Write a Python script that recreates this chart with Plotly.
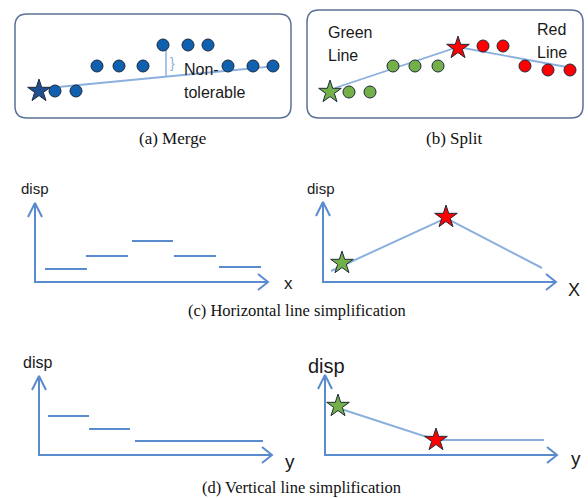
import plotly.graph_objects as go

# ---------------- data (diagram coordinates, px-like units) ----------------
# (a) Merge
merge_star_x = [39]
merge_star_y = [91]
merge_pts_x = [55, 76, 97, 119, 143, 163, 188, 208, 228, 253, 273]
merge_pts_y = [91, 91, 66, 66, 66, 45, 45, 45, 66, 66, 66]
merge_line_x = [48, 277]
merge_line_y = [88, 66]
merge_tol_x = [166, 166]
merge_tol_y = [49, 76]

# (b) Split
split_green_star = ([330], [92])
split_green_x = [349, 370, 393, 415, 438]
split_green_y = [92, 92, 66, 66, 66]
split_red_star = ([458], [48])
split_red_x = [483, 503, 525, 548, 570]
split_red_y = [46, 46, 66, 70, 70]
split_line_x = [335, 458, 572]
split_line_y = [88, 47, 68]

# (c) Horizontal line simplification - left (step segments)
hseg_x0 = [45, 86, 132, 174, 219]
hseg_x1 = [87, 128, 173, 216, 261]
hseg_y = [269, 256, 241, 256, 267]
# (c) right
hsimp_line_x = [331, 446, 542]
hsimp_line_y = [271, 218, 268]
hsimp_green = ([342], [263])
hsimp_red = ([446], [217])

# (d) Vertical line simplification - left
vseg_x0 = [48, 89, 135]
vseg_x1 = [89, 130, 263]
vseg_y = [416, 429, 441]
# (d) right
vsimp_line_x = [338, 436, 544]
vsimp_line_y = [408, 440, 440]
vsimp_green = ([338], [406])
vsimp_red = ([436], [440])

# axes: (origin_x, origin_y, top_tip_y, right_tip_x)
axes_defs = [
    (35, 282, 203, 268),
    (323, 282, 202, 556),
    (39, 455, 376, 272),
    (325, 455, 375, 557),
]

AXIS_COLOR = "#5b8bcf"
LINK_COLOR = "#8cb0de"
BLUE_FILL = "#1060b0"
GREEN_FILL = "#74b04a"
RED_FILL = "#ff0000"
OUTLINE = "#1e2a3a"
TEXT = "#1a1a1a"

fig = go.Figure()


def line(xs, ys, color, width=2):
    fig.add_trace(go.Scatter(x=xs, y=ys, mode="lines",
                             line=dict(color=color, width=width),
                             hoverinfo="skip"))


def markers(xs, ys, color, symbol="circle", size=12):
    fig.add_trace(go.Scatter(x=xs, y=ys, mode="markers",
                             marker=dict(color=color, symbol=symbol, size=size,
                                         line=dict(color=OUTLINE, width=1)),
                             hoverinfo="skip"))


def rounded_box(x0, y0, x1, y1, r=12):
    path = (f"M {x0+r},{y0} L {x1-r},{y0} Q {x1},{y0} {x1},{y0+r} "
            f"L {x1},{y1-r} Q {x1},{y1} {x1-r},{y1} L {x0+r},{y1} "
            f"Q {x0},{y1} {x0},{y1-r} L {x0},{y0+r} Q {x0},{y0} {x0+r},{y0} Z")
    fig.add_shape(type="path", path=path, xref="x", yref="y",
                  line=dict(color="#5a7196", width=1.5))


# panel boxes
rounded_box(15, 14, 291, 118)
rounded_box(307, 10, 583, 118)

# (a) merge
line(merge_line_x, merge_line_y, LINK_COLOR, 1.8)
line(merge_tol_x, merge_tol_y, LINK_COLOR, 1.5)
markers(merge_pts_x, merge_pts_y, BLUE_FILL, size=12)
markers(merge_star_x, merge_star_y, "#1f4f8f", symbol="star", size=17)

# (b) split
line(split_line_x, split_line_y, LINK_COLOR, 1.8)
markers(split_green_x, split_green_y, GREEN_FILL, size=12)
markers(split_red_x, split_red_y, RED_FILL, size=12)
markers(*split_green_star, GREEN_FILL, symbol="star", size=17)
markers(*split_red_star, RED_FILL, symbol="star", size=17)

# axes with open arrow heads
for ox, oy, ty, rx in axes_defs:
    line([ox, ox, rx], [ty, oy, oy], AXIS_COLOR, 2)
    line([ox - 7, ox, ox + 7], [ty + 14, ty, ty + 14], AXIS_COLOR, 2)
    line([rx - 10, rx, rx - 10], [oy - 8, oy, oy + 8], AXIS_COLOR, 2)

# (c) left segments
for a, b, y in zip(hseg_x0, hseg_x1, hseg_y):
    line([a, b], [y, y], AXIS_COLOR, 2)
# (c) right
line(hsimp_line_x, hsimp_line_y, LINK_COLOR, 2)
markers(*hsimp_green, GREEN_FILL, symbol="star", size=17)
markers(*hsimp_red, RED_FILL, symbol="star", size=17)

# (d) left segments
for a, b, y in zip(vseg_x0, vseg_x1, vseg_y):
    line([a, b], [y, y], AXIS_COLOR, 2)
# (d) right
line(vsimp_line_x, vsimp_line_y, LINK_COLOR, 2)
markers(*vsimp_green, GREEN_FILL, symbol="star", size=17)
markers(*vsimp_red, RED_FILL, symbol="star", size=17)

SANS = "Liberation Sans, Arial, sans-serif"
SERIF = "Liberation Serif, Times New Roman, serif"


def text(x, y, s, size=15, font=SANS, anchor="center", color=TEXT):
    fig.add_annotation(x=x, y=y, text=s, showarrow=False, xref="x", yref="y",
                       xanchor=anchor, yanchor="middle",
                       font=dict(family=font, size=size, color=color))


# panel texts
text(172, 63, "}", size=14, color=LINK_COLOR)
text(182, 69, "Non-", size=16, anchor="left")
text(182, 92, "tolerable", size=16, anchor="left")
text(326, 32, "Green", size=16, anchor="left")
text(326, 55, "Line", size=16, anchor="left")
text(535, 29, "Red", size=16, anchor="left")
text(535, 52, "Line", size=16, anchor="left")

# axis labels
text(35, 188, "disp", size=15)
text(288, 283, "x", size=17)
text(321, 188, "disp", size=15)
text(574, 290, "X", size=18)
text(37, 362, "disp", size=16)
text(290, 461, "y", size=19)
text(326, 366, "disp", size=20)
text(576, 458, "y", size=19)

# captions
CAP = "#111111"
text(172, 138, "(a) Merge", size=17, font=SERIF, color=CAP)
text(454, 138, "(b) Split", size=17, font=SERIF, color=CAP)
text(297, 310, "(c) Horizontal line simplification", size=16.5, font=SERIF, color=CAP)
text(301, 487, "(d) Vertical line simplification", size=16.5, font=SERIF, color=CAP)

fig.update_layout(
    width=588, height=498,
    margin=dict(l=0, r=0, t=0, b=0),
    paper_bgcolor="white", plot_bgcolor="white",
    showlegend=False,
    xaxis=dict(range=[0, 588], visible=False, fixedrange=True),
    yaxis=dict(range=[498, 0], visible=False, fixedrange=True),
)

fig.write_html("out.html", config={"displayModeBar": False},
               post_script="document.body.style.margin='0px';"
                           "document.body.style.overflow='hidden';")
